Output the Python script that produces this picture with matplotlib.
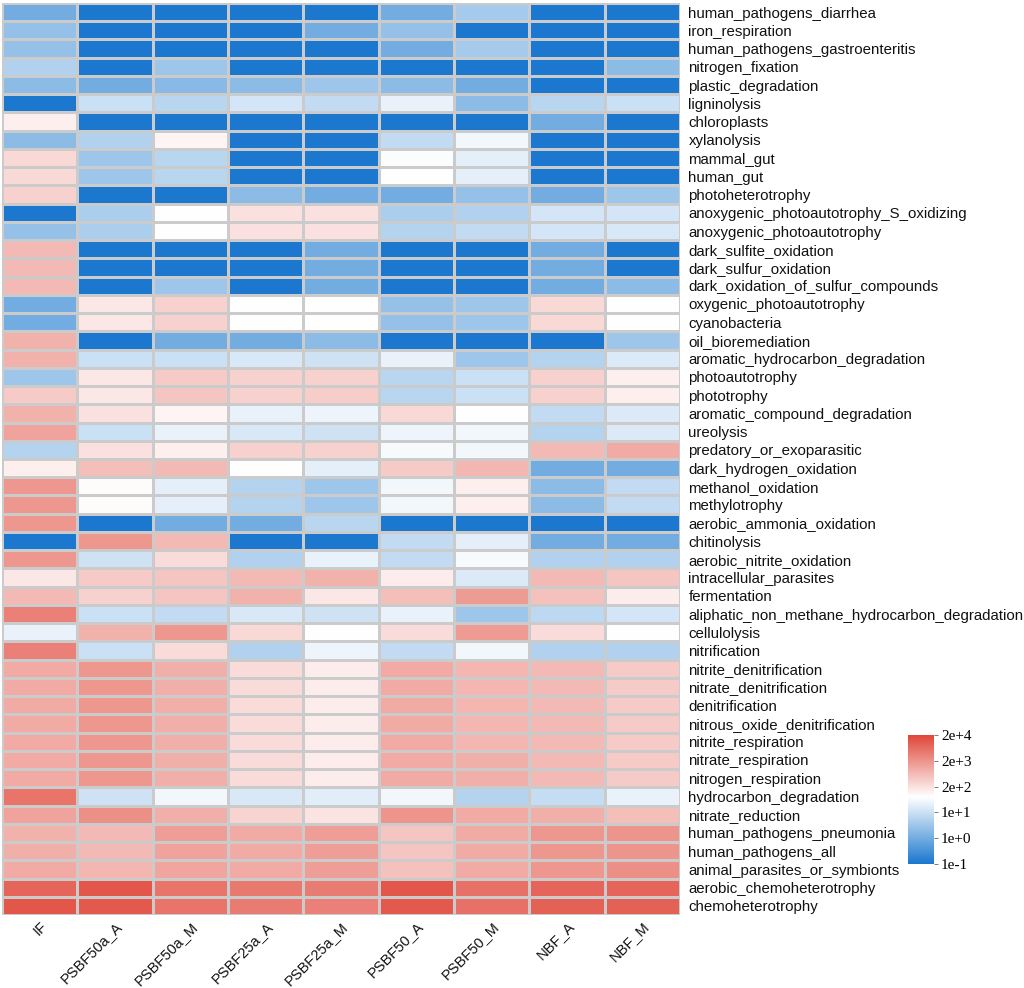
import matplotlib
matplotlib.use("Agg")
import matplotlib.pyplot as plt
import numpy as np
from matplotlib.colors import LinearSegmentedColormap

samples = ["IF", "PSBF50a_A", "PSBF50a_M", "PSBF25a_A", "PSBF25a_M",
           "PSBF50_A", "PSBF50_M", "NBF_A", "NBF_M"]

functions = [
    "human_pathogens_diarrhea", "iron_respiration", "human_pathogens_gastroenteritis",
    "nitrogen_fixation", "plastic_degradation", "ligninolysis", "chloroplasts",
    "xylanolysis", "mammal_gut", "human_gut", "photoheterotrophy",
    "anoxygenic_photoautotrophy_S_oxidizing", "anoxygenic_photoautotrophy",
    "dark_sulfite_oxidation", "dark_sulfur_oxidation", "dark_oxidation_of_sulfur_compounds",
    "oxygenic_photoautotrophy", "cyanobacteria", "oil_bioremediation",
    "aromatic_hydrocarbon_degradation", "photoautotrophy", "phototrophy",
    "aromatic_compound_degradation", "ureolysis", "predatory_or_exoparasitic",
    "dark_hydrogen_oxidation", "methanol_oxidation", "methylotrophy",
    "aerobic_ammonia_oxidation", "chitinolysis", "aerobic_nitrite_oxidation",
    "intracellular_parasites", "fermentation",
    "aliphatic_non_methane_hydrocarbon_degradation", "cellulolysis", "nitrification",
    "nitrite_denitrification", "nitrate_denitrification", "denitrification",
    "nitrous_oxide_denitrification", "nitrite_respiration", "nitrate_respiration",
    "nitrogen_respiration", "hydrocarbon_degradation", "nitrate_reduction",
    "human_pathogens_pneumonia", "human_pathogens_all", "animal_parasites_or_symbionts",
    "aerobic_chemoheterotrophy", "chemoheterotrophy",
]

# colour level of each cell (0 = 1e-1 ... 5 = 2e+4)
levels = [
    [1.0, 0, 0, 0, 0, 1.0, 1.6, 0, 0],
    [1.4, 0, 0, 0, 1.0, 1.4, 0, 0, 0],
    [1.4, 0, 0, 0, 0, 1.0, 1.6, 0, 0],
    [1.7, 0, 1.5, 0, 0, 0, 0, 0, 1.3],
    [1.3, 1.0, 1.25, 1.3, 1.5, 1.3, 1.0, 0, 0],
    [0, 2.0, 1.8, 2.1, 1.9, 2.35, 1.3, 1.8, 2.0],
    [2.8, 0, 0, 0, 0, 0, 0, 1.0, 0],
    [1.3, 1.7, 2.75, 0, 0, 1.9, 2.45, 0, 0],
    [3.1, 1.5, 1.8, 0, 0, 2.55, 2.3, 0, 0],
    [3.1, 1.5, 1.8, 0, 0, 2.6, 2.3, 0, 0],
    [3.2, 0, 0, 1.3, 1.0, 1.0, 1.4, 1.0, 1.5],
    [0, 1.65, 2.6, 3.0, 3.0, 1.65, 1.7, 2.1, 2.1],
    [1.4, 1.65, 2.6, 3.0, 3.0, 1.75, 1.9, 2.1, 2.15],
    [3.5, 0, 0, 0, 1.0, 0, 0, 1.0, 0],
    [3.5, 0, 0, 0, 1.0, 0, 0, 1.0, 0],
    [3.5, 0, 1.5, 0, 1.0, 0, 0, 1.0, 1.3],
    [1.0, 2.9, 3.2, 2.6, 2.6, 1.4, 1.5, 3.1, 2.6],
    [1.0, 2.9, 3.2, 2.6, 2.6, 1.4, 1.5, 3.1, 2.6],
    [3.6, 0, 1.0, 1.0, 1.3, 0, 0, 0, 1.5],
    [3.6, 2.0, 2.0, 2.15, 2.05, 2.35, 1.5, 1.75, 2.2],
    [1.5, 2.9, 3.3, 3.2, 3.2, 1.8, 2.0, 3.2, 2.8],
    [3.3, 2.9, 3.35, 3.2, 3.25, 1.8, 2.0, 3.2, 2.8],
    [3.6, 3.0, 2.75, 2.35, 2.4, 3.1, 2.6, 1.9, 2.2],
    [3.8, 2.0, 2.35, 2.15, 2.05, 2.4, 2.45, 1.75, 2.2],
    [1.75, 3.0, 2.8, 3.2, 3.2, 2.5, 2.45, 3.5, 3.7],
    [2.8, 3.45, 3.5, 2.6, 2.3, 3.3, 3.55, 1.0, 1.0],
    [3.95, 2.65, 2.3, 1.75, 1.5, 2.45, 2.8, 1.3, 1.9],
    [3.95, 2.65, 2.3, 1.75, 1.5, 2.45, 2.8, 1.3, 1.9],
    [3.95, 0, 1.0, 1.0, 1.8, 0, 0, 0, 0],
    [0, 3.95, 3.5, 0, 0, 1.9, 2.3, 1.0, 1.0],
    [3.95, 2.05, 3.05, 1.7, 2.35, 1.9, 2.5, 1.7, 1.7],
    [2.9, 3.3, 3.35, 3.5, 3.6, 2.85, 2.2, 3.5, 3.35],
    [3.5, 3.2, 3.35, 3.6, 2.9, 3.45, 3.9, 3.4, 2.85],
    [4.25, 2.0, 1.9, 2.15, 2.05, 2.35, 1.5, 1.85, 2.1],
    [2.35, 3.6, 3.95, 3.1, 2.6, 3.05, 3.9, 3.05, 2.6],
    [4.25, 2.0, 3.05, 1.7, 2.4, 1.9, 2.45, 1.7, 1.7],
    [3.7, 3.95, 3.65, 3.05, 2.85, 3.7, 3.55, 3.5, 3.3],
    [3.7, 3.95, 3.65, 3.05, 2.85, 3.7, 3.55, 3.5, 3.3],
    [3.7, 3.95, 3.65, 3.05, 2.85, 3.7, 3.55, 3.5, 3.3],
    [3.7, 3.95, 3.65, 3.05, 2.85, 3.7, 3.55, 3.5, 3.3],
    [3.7, 3.95, 3.65, 3.05, 2.85, 3.7, 3.55, 3.5, 3.3],
    [3.7, 3.95, 3.65, 3.05, 2.85, 3.7, 3.65, 3.5, 3.3],
    [3.7, 3.95, 3.65, 3.05, 2.85, 3.7, 3.65, 3.5, 3.3],
    [4.4, 2.05, 2.45, 2.15, 2.25, 2.45, 1.75, 1.95, 2.35],
    [3.8, 4.05, 3.65, 3.15, 2.95, 4.0, 3.7, 3.65, 3.45],
    [3.6, 3.5, 3.85, 3.7, 3.85, 3.35, 3.7, 3.95, 4.0],
    [3.65, 3.5, 3.8, 3.7, 3.85, 3.35, 3.7, 3.95, 4.0],
    [3.7, 3.55, 3.75, 3.7, 3.85, 3.4, 3.7, 3.95, 4.05],
    [4.6, 4.8, 4.4, 4.35, 4.3, 4.8, 4.45, 4.6, 4.6],
    [4.8, 4.75, 4.4, 4.3, 4.25, 4.75, 4.45, 4.65, 4.65],
]

cbar_ticks = [0, 1, 2, 3, 4, 5]
cbar_labels = ["1e-1", "1e+0", "1e+1", "2e+2", "2e+3", "2e+4"]

cmap = LinearSegmentedColormap.from_list(
    "bwr_custom", [(0.0, "#1B78CE"), (0.52, "#FFFFFF"), (1.0, "#E0473A")])

plt.rcParams["font.family"] = ["Liberation Sans", "DejaVu Sans"]

fig = plt.figure(figsize=(10.24, 9.88), dpi=100)
ax = fig.add_axes([2 / 1024, 1 - 915 / 988, 678 / 1024, 912 / 988])

data = np.array(levels)
mesh = ax.pcolormesh(data, cmap=cmap, vmin=0, vmax=5,
                     edgecolors="#CBCBCB", linewidth=0.8)
ax.set_xlim(0, len(samples))
ax.set_ylim(len(functions), 0)
for s in ax.spines.values():
    s.set_visible(False)

ax.yaxis.tick_right()
ax.set_yticks(np.arange(len(functions)) + 0.5)
ax.set_yticklabels(functions, fontsize=10.8, color="#111111")
ax.set_xticks(np.arange(len(samples)) + 0.5)
ax.set_xticklabels(samples, fontsize=10.5, rotation=45, ha="right",
                   rotation_mode="anchor", color="#111111")
ax.tick_params(axis="y", length=0, pad=6)
ax.tick_params(axis="x", length=0, pad=3)

cax = fig.add_axes([908 / 1024, 1 - 864 / 988, 26 / 1024, 129 / 988])
cb = fig.colorbar(mesh, cax=cax, ticks=cbar_ticks)
cb.outline.set_visible(False)
cb.ax.set_yticklabels(cbar_labels, family=["Liberation Serif", "DejaVu Serif"],
                      fontsize=11)
cb.ax.tick_params(length=3, width=0.6, color="#666666", pad=2)

fig.savefig("out.png", dpi=100)
